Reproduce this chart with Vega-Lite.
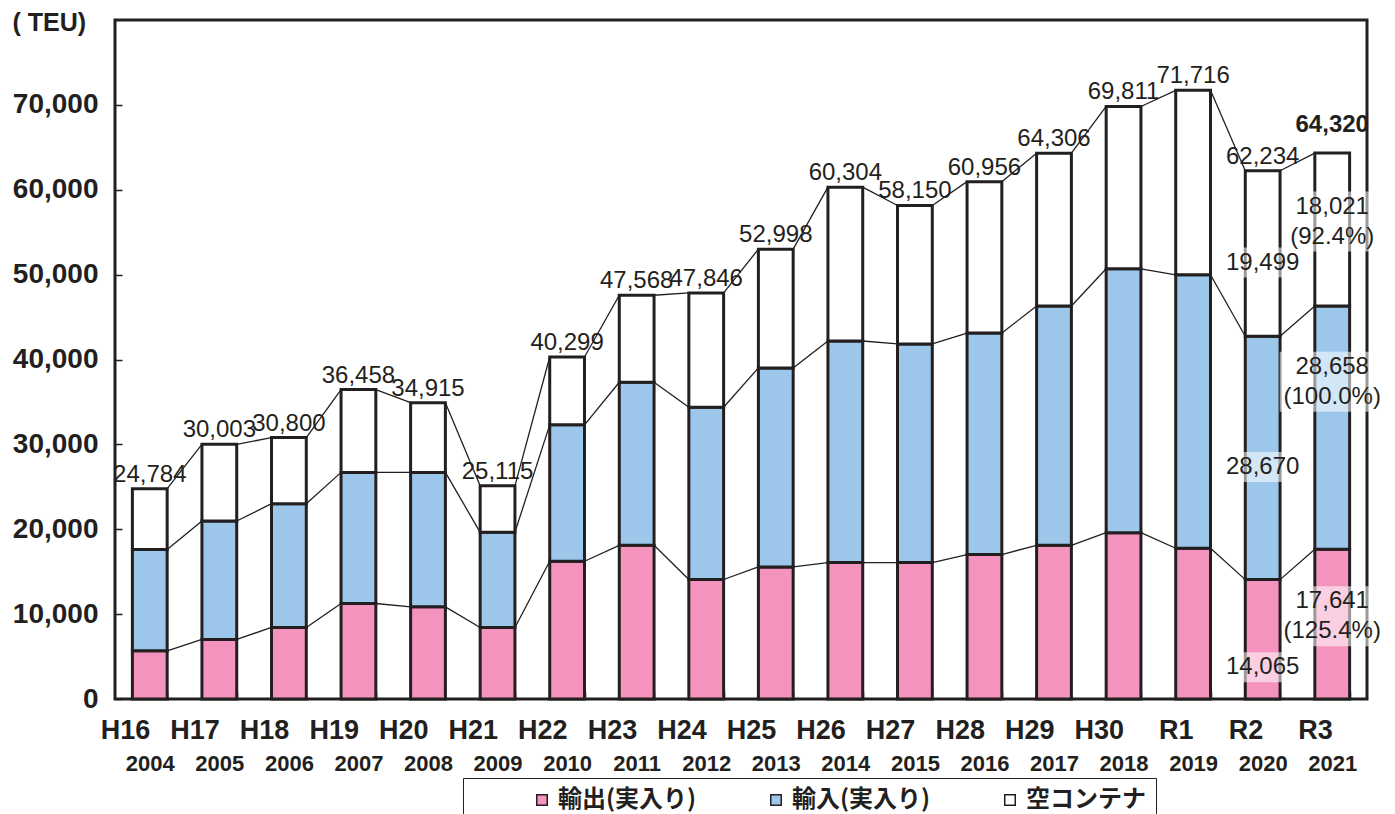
{
  "$schema": "https://vega.github.io/schema/vega-lite/v6.json",
  "width": 1252,
  "height": 679,
  "autosize": {"type": "none"},
  "padding": {"left": 115, "top": 20, "right": 28, "bottom": 115},
  "background": "white",
  "title": {"text": "金沢港外貿コンテナ貨物量の年次推移", "font": "Noto Sans CJK JP", "fontSize": 32, "fontWeight": "bold", "color": "#231F20", "offset": 2, "baseline": "bottom", "anchor": "middle", "frame": "group", "dx": -14, "dy": 13},
  "config": {
    "view": {"stroke": "#231F20", "strokeWidth": 3},
    "font": "Liberation Sans"
  },
  "data": {"values": [
    {"wareki": "H16", "year": "2004", "type": "輸出(実入り)", "teu": 5680},
    {"wareki": "H16", "year": "2004", "type": "輸入(実入り)", "teu": 11920},
    {"wareki": "H16", "year": "2004", "type": "空コンテナ", "teu": 7184},
    {"wareki": "H17", "year": "2005", "type": "輸出(実入り)", "teu": 7020},
    {"wareki": "H17", "year": "2005", "type": "輸入(実入り)", "teu": 13950},
    {"wareki": "H17", "year": "2005", "type": "空コンテナ", "teu": 9033},
    {"wareki": "H18", "year": "2006", "type": "輸出(実入り)", "teu": 8430},
    {"wareki": "H18", "year": "2006", "type": "輸入(実入り)", "teu": 14580},
    {"wareki": "H18", "year": "2006", "type": "空コンテナ", "teu": 7790},
    {"wareki": "H19", "year": "2007", "type": "輸出(実入り)", "teu": 11250},
    {"wareki": "H19", "year": "2007", "type": "輸入(実入り)", "teu": 15450},
    {"wareki": "H19", "year": "2007", "type": "空コンテナ", "teu": 9758},
    {"wareki": "H20", "year": "2008", "type": "輸出(実入り)", "teu": 10860},
    {"wareki": "H20", "year": "2008", "type": "輸入(実入り)", "teu": 15840},
    {"wareki": "H20", "year": "2008", "type": "空コンテナ", "teu": 8215},
    {"wareki": "H21", "year": "2009", "type": "輸出(実入り)", "teu": 8430},
    {"wareki": "H21", "year": "2009", "type": "輸入(実入り)", "teu": 11210},
    {"wareki": "H21", "year": "2009", "type": "空コンテナ", "teu": 5475},
    {"wareki": "H22", "year": "2010", "type": "輸出(実入り)", "teu": 16230},
    {"wareki": "H22", "year": "2010", "type": "輸入(実入り)", "teu": 16070},
    {"wareki": "H22", "year": "2010", "type": "空コンテナ", "teu": 7999},
    {"wareki": "H23", "year": "2011", "type": "輸出(実入り)", "teu": 18110},
    {"wareki": "H23", "year": "2011", "type": "輸入(実入り)", "teu": 19210},
    {"wareki": "H23", "year": "2011", "type": "空コンテナ", "teu": 10248},
    {"wareki": "H24", "year": "2012", "type": "輸出(実入り)", "teu": 14080},
    {"wareki": "H24", "year": "2012", "type": "輸入(実入り)", "teu": 20300},
    {"wareki": "H24", "year": "2012", "type": "空コンテナ", "teu": 13466},
    {"wareki": "H25", "year": "2013", "type": "輸出(実入り)", "teu": 15560},
    {"wareki": "H25", "year": "2013", "type": "輸入(実入り)", "teu": 23450},
    {"wareki": "H25", "year": "2013", "type": "空コンテナ", "teu": 13988},
    {"wareki": "H26", "year": "2014", "type": "輸出(実入り)", "teu": 16070},
    {"wareki": "H26", "year": "2014", "type": "輸入(実入り)", "teu": 26110},
    {"wareki": "H26", "year": "2014", "type": "空コンテナ", "teu": 18124},
    {"wareki": "H27", "year": "2015", "type": "輸出(実入り)", "teu": 16070},
    {"wareki": "H27", "year": "2015", "type": "輸入(実入り)", "teu": 25760},
    {"wareki": "H27", "year": "2015", "type": "空コンテナ", "teu": 16320},
    {"wareki": "H28", "year": "2016", "type": "輸出(実入り)", "teu": 17020},
    {"wareki": "H28", "year": "2016", "type": "輸入(実入り)", "teu": 26100},
    {"wareki": "H28", "year": "2016", "type": "空コンテナ", "teu": 17836},
    {"wareki": "H29", "year": "2017", "type": "輸出(実入り)", "teu": 18110},
    {"wareki": "H29", "year": "2017", "type": "輸入(実入り)", "teu": 28190},
    {"wareki": "H29", "year": "2017", "type": "空コンテナ", "teu": 18006},
    {"wareki": "H30", "year": "2018", "type": "輸出(実入り)", "teu": 19600},
    {"wareki": "H30", "year": "2018", "type": "輸入(実入り)", "teu": 31090},
    {"wareki": "H30", "year": "2018", "type": "空コンテナ", "teu": 19121},
    {"wareki": "R1", "year": "2019", "type": "輸出(実入り)", "teu": 17760},
    {"wareki": "R1", "year": "2019", "type": "輸入(実入り)", "teu": 32220},
    {"wareki": "R1", "year": "2019", "type": "空コンテナ", "teu": 21736},
    {"wareki": "R2", "year": "2020", "type": "輸出(実入り)", "teu": 14065, "note": "14,065"},
    {"wareki": "R2", "year": "2020", "type": "輸入(実入り)", "teu": 28670, "note": "28,670"},
    {"wareki": "R2", "year": "2020", "type": "空コンテナ", "teu": 19499, "note": "19,499"},
    {"wareki": "R3", "year": "2021", "type": "輸出(実入り)", "teu": 17641, "note": "17,641\n(125.4%)"},
    {"wareki": "R3", "year": "2021", "type": "輸入(実入り)", "teu": 28658, "note": "28,658\n(100.0%)"},
    {"wareki": "R3", "year": "2021", "type": "空コンテナ", "teu": 18021, "note": "18,021\n(92.4%)"}
  ]},
  "transform": [
    {"stack": "teu", "groupby": ["wareki"], "sort": [{"field": "type", "order": "descending"}], "as": ["v0", "v1"]}
  ],
  "resolve": {"scale": {"x": "independent"}, "axis": {"x": "independent"}},
  "layer": [
    {
      "layer": [
        {
          "transform": [
            {"window": [{"op": "lead", "field": "v1", "as": "nv1"}, {"op": "lead", "field": "wareki", "as": "nw"}], "groupby": ["type"], "sort": [{"field": "year", "order": "ascending"}]},
            {"filter": "datum.nw != null"}
          ],
          "mark": {"type": "rule", "color": "#231F20", "strokeWidth": 1.3},
          "encoding": {
            "x": {"field": "wareki", "type": "nominal", "bandPosition": 1},
            "x2": {"field": "nw", "bandPosition": 0},
            "y": {"field": "v1", "type": "quantitative", "title": "( TEU)"},
            "y2": {"field": "nv1"}
          }
        },
        {
          "mark": {"type": "bar", "stroke": "#231F20", "strokeWidth": 3},
          "encoding": {
            "x": {
              "field": "wareki", "type": "nominal",
              "scale": {"paddingInner": 0.5, "paddingOuter": 0.25},
              "axis": {
                "orient": "bottom", "title": null, "domain": false, "labelAngle": 0,
                "labelFont": "Liberation Sans", "labelFontSize": 27, "labelFontWeight": "bold", "labelColor": "#231F20",
                "labelPadding": 26, "labelBaseline": "top",
                "ticks": true, "tickBand": "extent", "tickSize": -8, "tickColor": "#231F20", "tickWidth": 1.5
              }
            },
            "y": {
              "field": "v1", "type": "quantitative", "title": "( TEU)",
              "scale": {"domain": [0, 80000], "nice": false},
              "axis": {
                "values": [0, 10000, 20000, 30000, 40000, 50000, 60000, 70000], "format": ",d",
                "grid": false, "domain": false,
                "labelFont": "Liberation Sans", "labelFontSize": 28, "labelFontWeight": "bold", "labelColor": "#231F20", "labelPadding": 24,
                "tickSize": -7, "tickColor": "#231F20", "tickWidth": 1.5,
                "titleAngle": 0, "titleX": -103, "titleY": 2, "titleAlign": "left", "titleBaseline": "middle",
                "titleFont": "Liberation Sans", "titleFontSize": 25, "titleFontWeight": "bold", "titleColor": "#231F20"
              }
            },
            "y2": {"field": "v0"},
            "color": {
              "field": "type", "type": "nominal",
              "scale": {"domain": ["輸出(実入り)", "輸入(実入り)", "空コンテナ"], "range": ["#F494BE", "#9DC7EA", "#FFFFFF"]},
              "legend": {
                "title": null, "orient": "none", "legendX": 348, "legendY": 758, "direction": "horizontal",
                "strokeColor": "#231F20", "fillColor": "white", "padding": 10,
                "symbolType": "square", "symbolSize": 110, "symbolStrokeColor": "#231F20", "symbolStrokeWidth": 1.5, "symbolOffset": 57,
                "labelFont": "Noto Sans CJK JP", "labelFontSize": 24, "labelFontWeight": "bold", "labelColor": "#231F20", "labelOffset": 4, "labelLimit": 300,
                "gridAlign": "all", "columnPadding": 10
              }
            }
          }
        },
        {
          "transform": [
            {"filter": "datum.wareki == 'R2' && datum.type == '輸出(実入り)'"},
            {"calculate": "(datum.v0 + datum.v1) / 2", "as": "mid"}
          ],
          "encoding": {
            "x": {"field": "wareki", "type": "nominal"},
            "y": {"field": "mid", "type": "quantitative", "title": "( TEU)"}
          },
          "layer": [
            {"mark": {"type": "point", "filled": true, "color": "white", "opacity": 0.55, "strokeWidth": 0, "size": 10000, "shape": "M-0.76,0.26H0.76V0.86H-0.76Z"}},
            {"mark": {"type": "text", "fontSize": 24, "color": "#231F20", "align": "center", "baseline": "middle", "dy": 28}, "encoding": {"text": {"field": "note"}}}
          ]
        },
        {
          "transform": [
            {"filter": "datum.wareki == 'R2' && datum.type != '輸出(実入り)'"},
            {"calculate": "(datum.v0 + datum.v1) / 2", "as": "mid"}
          ],
          "encoding": {
            "x": {"field": "wareki", "type": "nominal"},
            "y": {"field": "mid", "type": "quantitative", "title": "( TEU)"}
          },
          "layer": [
            {"mark": {"type": "point", "filled": true, "color": "white", "opacity": 0.55, "strokeWidth": 0, "size": 10000, "shape": "M-0.76,-0.12H0.76V0.48H-0.76Z"}},
            {"mark": {"type": "text", "fontSize": 24, "color": "#231F20", "align": "center", "baseline": "middle", "dy": 9}, "encoding": {"text": {"field": "note"}}}
          ]
        },
        {
          "transform": [
            {"filter": "datum.wareki == 'R3' && datum.type != '輸入(実入り)'"},
            {"calculate": "(datum.v0 + datum.v1) / 2", "as": "mid"}
          ],
          "encoding": {
            "x": {"field": "wareki", "type": "nominal"},
            "y": {"field": "mid", "type": "quantitative", "title": "( TEU)"}
          },
          "layer": [
            {"mark": {"type": "point", "filled": true, "color": "white", "opacity": 0.55, "strokeWidth": 0, "size": 10000, "shape": "M-0.96,-0.76H0.8V0.44H-0.96Z"}},
            {"mark": {"type": "text", "fontSize": 24, "color": "#231F20", "align": "center", "baseline": "middle", "dy": -23, "lineBreak": "\n", "lineHeight": 30}, "encoding": {"text": {"field": "note"}}}
          ]
        },
        {
          "transform": [
            {"filter": "datum.wareki == 'R3' && datum.type == '輸入(実入り)'"},
            {"calculate": "(datum.v0 + datum.v1) / 2", "as": "mid"}
          ],
          "encoding": {
            "x": {"field": "wareki", "type": "nominal"},
            "y": {"field": "mid", "type": "quantitative", "title": "( TEU)"}
          },
          "layer": [
            {"mark": {"type": "point", "filled": true, "color": "white", "opacity": 0.55, "strokeWidth": 0, "size": 10000, "shape": "M-1.05,-1.52H0.98V-0.32H-1.05Z"}},
            {"mark": {"type": "text", "fontSize": 24, "color": "#231F20", "align": "center", "baseline": "middle", "dy": -61, "lineBreak": "\n", "lineHeight": 30}, "encoding": {"text": {"field": "note"}}}
          ]
        }
      ]
    },
    {
      "transform": [
        {"aggregate": [{"op": "sum", "field": "teu", "as": "total"}], "groupby": ["wareki", "year"]}
      ],
      "encoding": {
        "x": {
          "field": "year", "type": "nominal",
          "scale": {"paddingInner": 0.5, "paddingOuter": 0.25},
          "axis": {
            "orient": "bottom", "title": null, "domain": false, "ticks": false, "labelAngle": 0,
            "labelFont": "Liberation Sans", "labelFontSize": 22, "labelFontWeight": "bold", "labelColor": "#231F20",
            "labelPadding": 54, "labelBaseline": "top"
          }
        },
        "y": {"field": "total", "type": "quantitative", "title": "( TEU)"},
        "text": {"field": "total", "type": "quantitative", "format": ","}
      },
      "layer": [
        {
          "transform": [{"filter": "datum.wareki != 'R3'"}],
          "mark": {"type": "text", "fontSize": 24, "color": "#231F20", "align": "center", "baseline": "alphabetic", "dy": -7}
        },
        {
          "transform": [{"filter": "datum.wareki == 'R3'"}],
          "mark": {"type": "text", "fontSize": 24, "fontWeight": "bold", "color": "#231F20", "align": "center", "baseline": "alphabetic", "dy": -21}
        }
      ]
    }
  ]
}
